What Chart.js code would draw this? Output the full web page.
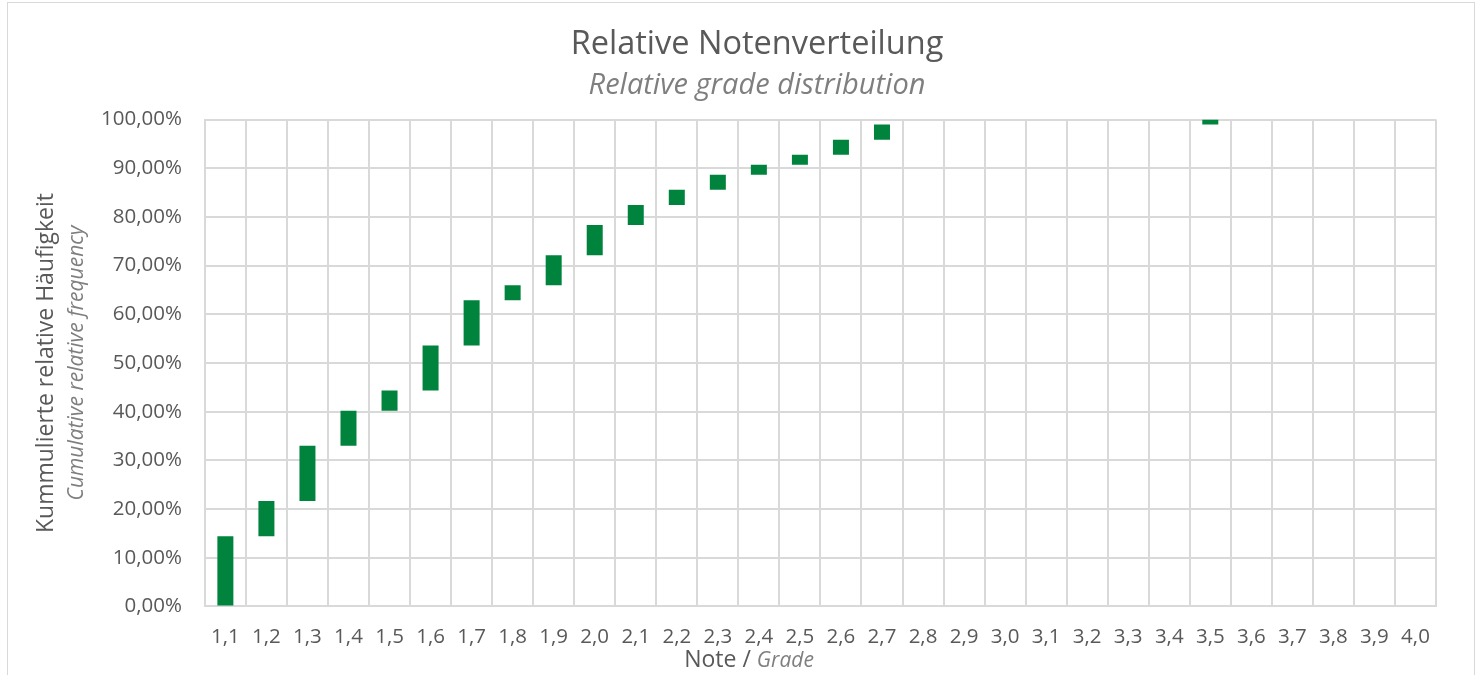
<!DOCTYPE html>
<html>
<head>
<meta charset="utf-8">
<script src="https://cdn.jsdelivr.net/npm/chart.js@4"></script>
<style>
  body { margin: 0; background: #fff; }
  #frame { position: absolute; left: 7px; top: 2px; width: 1466px; height: 700px; border: 1px solid #d9d9d9; }
  #graph { position: absolute; left: 0; top: 0; }
</style>
</head>
<body>
<div id="frame"></div>
<canvas id="graph" width="1479" height="675"></canvas>
<script>
var categories = ['1,1', '1,2', '1,3', '1,4', '1,5', '1,6', '1,7', '1,8', '1,9', '2,0',
  '2,1', '2,2', '2,3', '2,4', '2,5', '2,6', '2,7', '2,8', '2,9', '3,0',
  '3,1', '3,2', '3,3', '3,4', '3,5', '3,6', '3,7', '3,8', '3,9', '4,0'];

// bottom and top of each floating bar, in percent (null = no bar)
var barLow = [0, 14.43, 21.65, 32.99, 40.21, 44.33, 53.61, 62.89, 65.98, 72.16,
  78.35, 82.47, 85.57, 88.66, 90.72, 92.78, 95.88, null, null, null,
  null, null, null, null, 98.97, null, null, null, null, null];
var barHigh = [14.43, 21.65, 32.99, 40.21, 44.33, 53.61, 62.89, 65.98, 72.16, 78.35,
  82.47, 85.57, 88.66, 90.72, 92.78, 95.88, 98.97, null, null, null,
  null, null, null, null, 100, null, null, null, null, null];

var yTickLabels = ['0,00%', '10,00%', '20,00%', '30,00%', '40,00%', '50,00%',
  '60,00%', '70,00%', '80,00%', '90,00%', '100,00%'];

var FONT = '"Open Sans", sans-serif';

// axis titles mix upright and italic text, so they are drawn here
var axisTitles = {
  id: 'axisTitles',
  afterDraw: function (chart) {
    var ctx = chart.ctx;
    var area = chart.chartArea;
    var midY = (area.top + area.bottom) / 2;
    ctx.save();
    ctx.textAlign = 'center';
    ctx.textBaseline = 'alphabetic';

    ctx.save();
    ctx.translate(53, midY);
    ctx.rotate(-Math.PI / 2);
    ctx.font = '23px ' + FONT;
    ctx.fillStyle = '#595959';
    ctx.fillText('Kummulierte relative Häufigkeit', 0, 0);
    ctx.restore();

    ctx.save();
    ctx.translate(83, midY);
    ctx.rotate(-Math.PI / 2);
    ctx.font = 'italic 21px ' + FONT;
    ctx.fillStyle = '#7f7f7f';
    ctx.fillText('Cumulative relative frequency', 0, 0);
    ctx.restore();

    var a = 'Note / ';
    var b = 'Grade';
    ctx.font = '23px ' + FONT;
    var wa = ctx.measureText(a).width;
    ctx.font = 'italic 21px ' + FONT;
    var wb = ctx.measureText(b).width;
    var x0 = 749 - (wa + wb) / 2;
    ctx.textAlign = 'left';
    ctx.font = '23px ' + FONT;
    ctx.fillStyle = '#595959';
    ctx.fillText(a, x0, 667);
    ctx.font = 'italic 21px ' + FONT;
    ctx.fillStyle = '#7f7f7f';
    ctx.fillText(b, x0 + wa, 667);
    ctx.restore();
  }
};

document.addEventListener('DOMContentLoaded', () => {
  var graph = document.getElementById('graph').getContext('2d');

  var myChart = new Chart(graph, {
    type: 'bar',
    data: {
      labels: categories,
      datasets: [{
        label: 'Kummulierte relative Häufigkeit',
        data: barLow.map((lo, i) => lo === null ? null : [lo, barHigh[i]]),
        backgroundColor: '#00843d',
        borderWidth: 0,
        barPercentage: 0.39,
        categoryPercentage: 1
      }]
    },
    options: {
      responsive: false,
      animation: false,
      layout: {
        padding: { left: 78, right: 43, top: 0, bottom: 8 }
      },
      scales: {
        x: {
          grid: { color: '#d9d9d9', lineWidth: 2, drawTicks: false, offset: true },
          border: { color: '#d9d9d9', width: 2 },
          ticks: {
            color: '#595959',
            padding: 18,
            maxRotation: 0,
            autoSkip: false,
            font: { family: FONT, size: 20.5 }
          }
        },
        y: {
          min: 0,
          max: 100,
          grid: { color: '#d9d9d9', lineWidth: 2, drawTicks: false },
          border: { color: '#d9d9d9', width: 2 },
          ticks: {
            stepSize: 10,
            color: '#595959',
            padding: 23,
            font: { family: FONT, size: 20.5 },
            callback: (value, index) => yTickLabels[index]
          }
        }
      },
      plugins: {
        legend: { display: false },
        tooltip: { enabled: false },
        title: {
          display: true,
          text: 'Relative Notenverteilung',
          color: '#595959',
          font: { family: FONT, size: 32.5, weight: 'normal' },
          padding: { top: 25, bottom: 0 }
        },
        subtitle: {
          display: true,
          text: 'Relative grade distribution',
          color: '#7f7f7f',
          font: { family: FONT, size: 29, style: 'italic' },
          padding: { top: 4.4, bottom: 16.4 }
        }
      }
    },
    plugins: [axisTitles]
  });
});
</script>
</body>
</html>
